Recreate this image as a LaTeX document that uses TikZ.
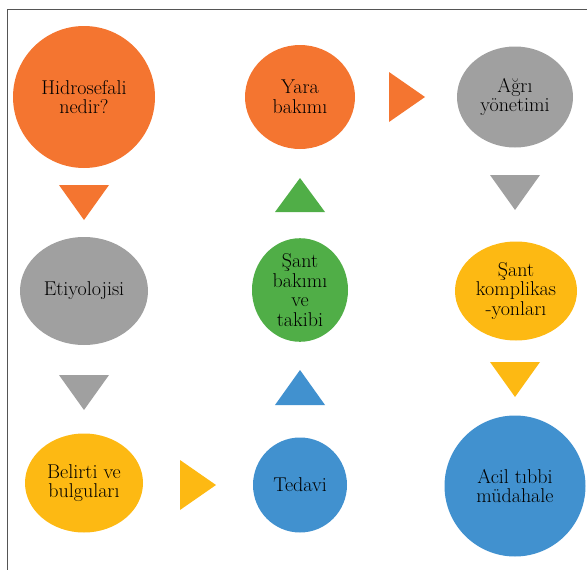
\documentclass[tikz,border=0pt]{standalone}
\usetikzlibrary{shapes.geometric}
\definecolor{orangeC}{HTML}{F47530}
\definecolor{grayC}{HTML}{A0A0A0}
\definecolor{yellowC}{HTML}{FDB913}
\definecolor{blueC}{HTML}{4191CF}
\definecolor{greenC}{HTML}{50AE47}
\definecolor{frameC}{HTML}{555555}
\tikzset{
  blob/.style={ellipse, inner sep=0pt, align=center, text=black,
    font=\fontsize{20}{19.7}\selectfont},
}
\begin{document}
\begin{tikzpicture}[x=1pt,y=-1pt]
\useasboundingbox (0,0) rectangle (587,570);
\draw[frameC, line width=1pt] (7,570) -- (7,9) -- (587,9);

% row 1
\node[blob, fill=orangeC, minimum width=142pt, minimum height=142pt] (hid) at (84,97) {Hidrosefali\\nedir?};
\node[blob, fill=orangeC, minimum width=110pt, minimum height=104pt] (yara) at (300,97) {Yara\\bakımı};
\node[blob, fill=grayC, minimum width=116pt, minimum height=101pt] (agri) at (515,97) {Ağrı\\yönetimi};
% row 2
\node[blob, fill=grayC, minimum width=128pt, minimum height=108pt] (eti) at (84,291) {Etiyolojisi};
\node[blob, fill=greenC, minimum width=96pt, minimum height=96pt] (sant) at (300,290) {Şant\\bakımı\\ve\\takibi};
\node[blob, fill=yellowC, minimum width=122pt, minimum height=99pt] (komp) at (516,291) {Şant\\komplikas\\-yonları};
% row 3
\node[blob, fill=yellowC, minimum width=118pt, minimum height=99pt] (bel) at (84,483) {Belirti ve\\bulguları};
\node[blob, fill=blueC, minimum width=94pt, minimum height=95pt] (ted) at (300,485) {Tedavi};
\node[blob, fill=blueC, minimum width=141pt, minimum height=141pt] (acil) at (515,486) {Acil tıbbi\\müdahale};

% triangles
\fill[orangeC] (59,185) -- (109,185) -- (84,220) -- cycle;
\fill[grayC] (59,375) -- (109,375) -- (84,410) -- cycle;
\fill[yellowC] (180,460) -- (180,510) -- (216,485) -- cycle;
\fill[blueC] (275,405) -- (325,405) -- (300,370) -- cycle;
\fill[greenC] (275,212) -- (325,212) -- (300,178) -- cycle;
\fill[orangeC] (389,72) -- (389,122) -- (425,97) -- cycle;
\fill[grayC] (490,175) -- (540,175) -- (515,210) -- cycle;
\fill[yellowC] (490,362) -- (540,362) -- (515,397) -- cycle;
\end{tikzpicture}
\end{document}
